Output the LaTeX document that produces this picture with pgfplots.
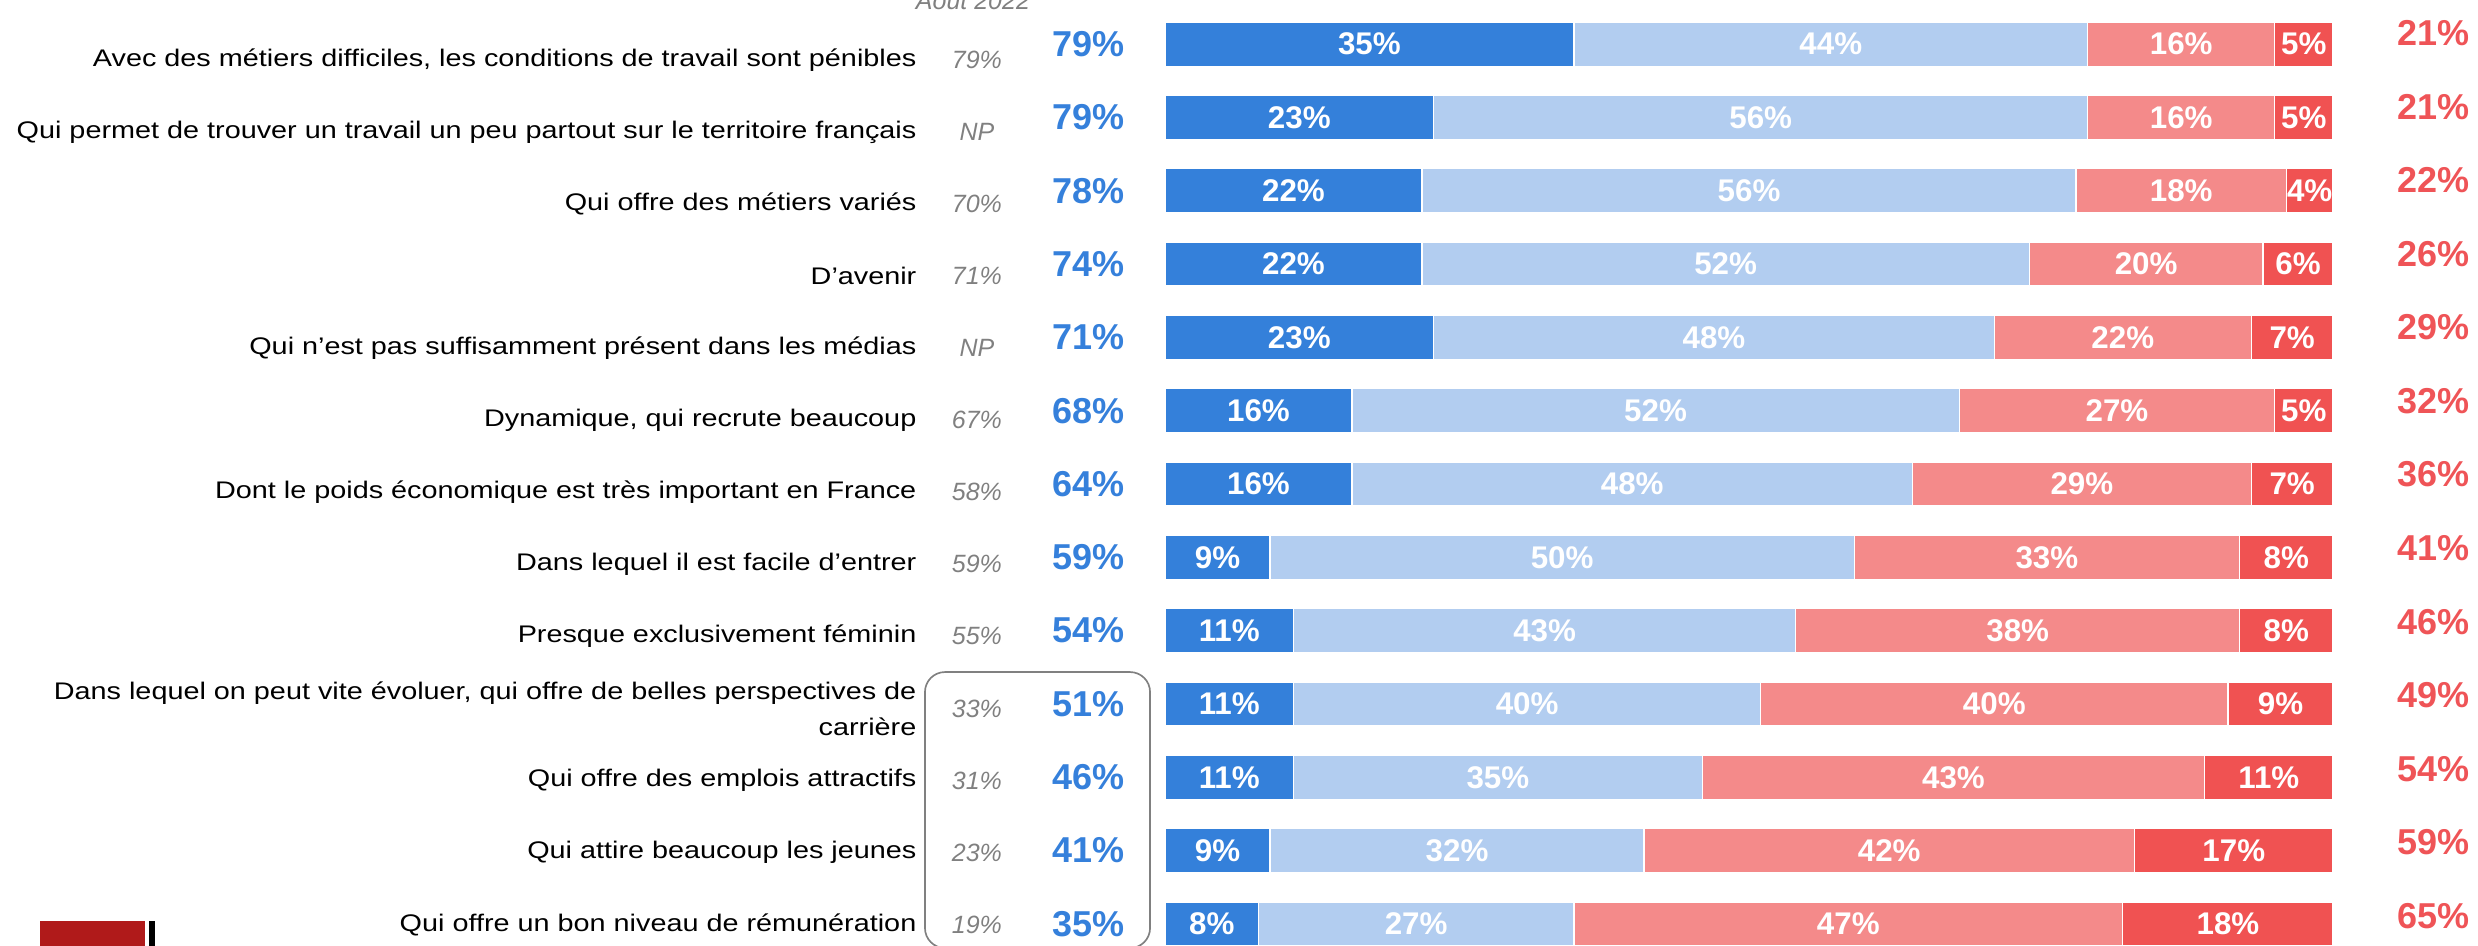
\documentclass[border=0pt]{standalone}
\usepackage{pgfplots}
\pgfplotsset{compat=1.18}
\usepackage{pgfplotstable}
\usepackage{fontspec}
\setmainfont{Liberation Sans}
\newfontfamily\labfont[FakeStretch=1.2]{Liberation Sans}
\protected\def\brk{\\}

\definecolor{bleuF}{HTML}{3480DA}
\definecolor{bleuC}{HTML}{B2CDF0}
\definecolor{rougeC}{HTML}{F48A8A}
\definecolor{rougeF}{HTML}{F05252}
\definecolor{txtbleu}{HTML}{3580DB}
\definecolor{txtrouge}{HTML}{EF5457}
\definecolor{gris}{HTML}{808080}
\definecolor{logo}{HTML}{B01A1A}

% a = tout a fait, b = plutot, c = plutot pas, d = pas du tout
\pgfplotstableread{
row a b c d tot neg prev
1 35 44 16 5 79 21 79\%
2 23 56 16 5 79 21 NP
3 22 56 18 4 78 22 70\%
4 22 52 20 6 74 26 71\%
5 23 48 22 7 71 29 NP
6 16 52 27 5 68 32 67\%
7 16 48 29 7 64 36 58\%
8 9 50 33 8 59 41 59\%
9 11 43 38 8 54 46 55\%
10 11 40 40 9 51 49 33\%
11 11 35 43 11 46 54 31\%
12 9 32 42 17 41 59 23\%
13 8 27 47 18 35 65 19\%
}\data

\pgfplotstableread[col sep=semicolon]{
row;lab
1;Avec des métiers difficiles, les conditions de travail sont pénibles
2;Qui permet de trouver un travail un peu partout sur le territoire français
3;Qui offre des métiers variés
4;D’avenir
5;Qui n’est pas suffisamment présent dans les médias
6;Dynamique, qui recrute beaucoup
7;Dont le poids économique est très important en France
8;Dans lequel il est facile d’entrer
9;Presque exclusivement féminin
10;Dans lequel on peut vite évoluer, qui offre de belles perspectives de\brk carrière
11;Qui offre des emplois attractifs
12;Qui attire beaucoup les jeunes
13;Qui offre un bon niveau de rémunération
}\labels

\pgfplotsset{
  geo/.style={x=3.504pt, y=21.99pt, y dir=reverse,
    xmin=-99.74, xmax=112.41, ymin=0.397, ymax=13.289,
    hide axis, clip=false, enlargelimits=false},
  txt/.style={draw=none, mark=none, point meta=explicit symbolic},
  inbar/.style={txt, nodes near coords={\pgfplotspointmeta\%},
    nodes near coords style={anchor=center, text=white, inner sep=0pt,
      font=\fontsize{9.4}{10}\selectfont\bfseries}},
}

\begin{document}
\begin{tikzpicture}
\begin{axis}[name=ax, geo, xbar stacked, bar width=13.2pt]
\addplot[fill=bleuF, draw=white, line width=0.4pt] table[x=a, y=row]{\data};
\addplot[fill=bleuC, draw=white, line width=0.4pt] table[x=b, y=row]{\data};
\addplot[fill=rougeC, draw=white, line width=0.4pt] table[x=c, y=row]{\data};
\addplot[fill=rougeF, draw=white, line width=0.4pt] table[x=d, y=row]{\data};
\end{axis}

\begin{axis}[geo]
% valeurs dans les barres
\addplot[inbar] table[x expr=\thisrow{a}/2, y=row, meta=a]{\data};
\addplot[inbar] table[x expr=\thisrow{a}+\thisrow{b}/2, y=row, meta=b]{\data};
\addplot[inbar] table[x expr=\thisrow{a}+\thisrow{b}+\thisrow{c}/2, y=row, meta=c]{\data};
\addplot[inbar] table[x expr=100-\thisrow{d}/2, y=row, meta=d]{\data};

% libelles
\addplot[txt, nodes near coords={\pgfplotspointmeta},
  nodes near coords style={anchor=east, inner sep=0pt, text=black,
    align=right, font=\labfont\fontsize{7.2}{10.8}\selectfont}]
  table[x expr=-21.23, y expr={\thisrow{row}+0.2156-0.01705*(\thisrow{row}-1)}, meta=lab]{\labels};

% aout 2022
\addplot[txt, nodes near coords={\pgfplotspointmeta},
  nodes near coords style={anchor=center, inner sep=0pt, text=gris,
    font=\fontsize{7.5}{9}\selectfont\itshape}]
  table[x expr=-16.10, y expr={\thisrow{row}+0.2156-0.01705*(\thisrow{row}-1)}, meta=prev]{\data};

% totaux
\addplot[txt, nodes near coords={\pgfplotspointmeta\%},
  nodes near coords style={anchor=center, inner sep=0pt, text=txtbleu,
    font=\fontsize{10.8}{12}\selectfont\bfseries}]
  table[x expr=-6.59, y=row, meta=tot]{\data};
\addplot[txt, nodes near coords={\pgfplotspointmeta\%},
  nodes near coords style={anchor=center, inner sep=0pt, text=txtrouge,
    font=\fontsize{10.8}{12}\selectfont\bfseries}]
  table[x expr=108.56, y expr={\thisrow{row}-(11-0.25*(\thisrow{row}-1))/73.3}, meta=neg]{\data};

\node[anchor=base, inner sep=0pt, text=gris, font=\fontsize{7.5}{9}\selectfont\itshape]
  at (axis cs:-16.44,0.52) {Août 2022};
\draw[gris, line width=0.5pt, rounded corners=6pt]
  (axis cs:-20.55,9.565) rectangle (axis cs:-1.28,13.33);
\fill[logo] (axis cs:-96.32,12.962) rectangle (axis cs:-87.33,13.5);
\fill[black] (axis cs:-86.99,12.962) rectangle (axis cs:-86.47,13.5);
\end{axis}
\pgfresetboundingbox
\path[use as bounding box] (ax.south west) rectangle (ax.north east);
\end{tikzpicture}
\end{document}
